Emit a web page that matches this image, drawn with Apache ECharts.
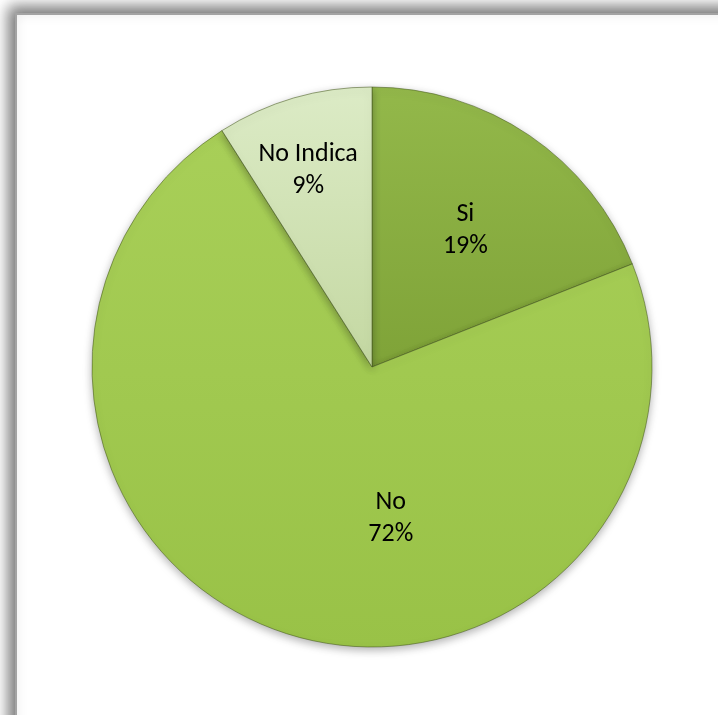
<!DOCTYPE html>
<html>
<head>
<meta charset="utf-8">
<script src="https://cdn.jsdelivr.net/npm/echarts@6/dist/echarts.min.js"></script>
<style>
  html, body { margin: 0; padding: 0; background: #ffffff; }
  #chart { width: 718px; height: 715px; }
</style>
</head>
<body>
<div id="chart"></div>
<script>
// Survey answers, in drawing order (clockwise from 12 o'clock)
const categories = ['Si', 'No', 'No Indica'];
const shares = [19, 72, 9];

// Fill per slice: [top colour, bottom colour]
const sliceColors = [
  ['#93b84a', '#7fa338'],
  ['#a8cf58', '#99c247'],
  ['#dcebc6', '#c4d8a2']
];

// Small nudges that move each label from the slice midpoint to its resting spot
const labelNudge = [
  { dx: 13, dy: -18 },
  { dx: 63, dy: 15 },
  { dx: -24, dy: -59 }
];

const chart = echarts.init(document.getElementById('chart'), null, { renderer: 'canvas' });

const pieData = categories.map((name, i) => ({
  name: name,
  value: shares[i],
  itemStyle: {
    color: {
      type: 'linear', x: 0, y: 0, x2: 0, y2: 1,
      colorStops: [
        { offset: 0, color: sliceColors[i][0] },
        { offset: 1, color: sliceColors[i][1] }
      ]
    }
  }
}));

chart.setOption({
  animation: false,
  graphic: [
    {
      // chart frame with its soft drop shadow to the upper left
      type: 'rect',
      z: 0,
      silent: true,
      shape: { x: 16, y: 14, width: 760, height: 760 },
      style: {
        fill: '#ffffff',
        stroke: '#a3a3a3',
        lineWidth: 2,
        shadowBlur: 14,
        shadowOffsetX: -6,
        shadowOffsetY: -6,
        shadowColor: 'rgba(0,0,0,0.55)'
      }
    }
  ],
  series: [
    {
      type: 'pie',
      z: 5,
      center: [372, 367],
      radius: [0, 280],
      startAngle: 90,
      clockwise: true,
      avoidLabelOverlap: false,
      data: pieData,
      itemStyle: {
        borderColor: 'rgba(70,90,30,0.55)',
        borderWidth: 1,
        shadowBlur: 8,
        shadowOffsetY: 3,
        shadowColor: 'rgba(0,0,0,0.3)'
      },
      label: {
        show: true,
        position: 'inside',
        formatter: '{b}\n{d}%',
        color: '#000000',
        fontFamily: 'Carlito, Lato, "Open Sans", sans-serif',
        fontSize: 26,
        lineHeight: 32,
        align: 'center'
      },
      labelLine: { show: false },
      labelLayout: function (params) {
        const n = labelNudge[params.dataIndex];
        return { dx: n.dx, dy: n.dy };
      },
      emphasis: { disabled: true }
    }
  ]
});
</script>
</body>
</html>
